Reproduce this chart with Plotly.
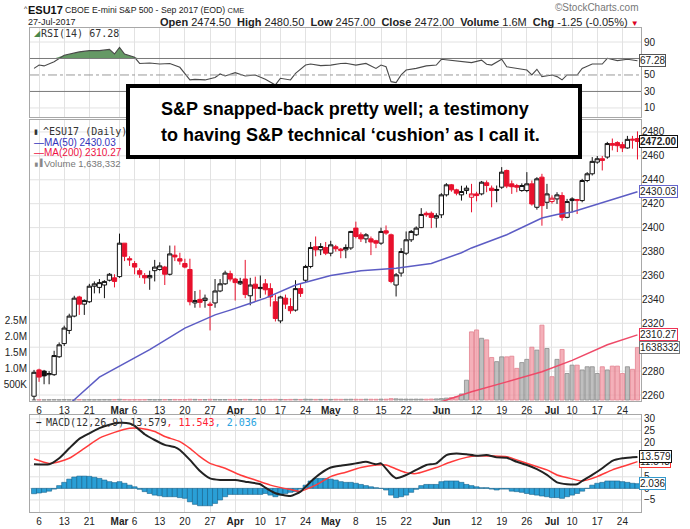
import numpy as np
import plotly.graph_objects as go

# ---------------- data ----------------
FEB_DAYS = [3, 6, 7, 8, 9, 10, 13, 14, 15, 16, 17, 21, 22, 23, 24, 27, 28]
MAR_DAYS = [1, 2, 3, 6, 7, 8, 9, 10, 13, 14, 15, 16, 17, 20, 21, 22, 23, 24, 27, 28, 29, 30, 31]
APR_DAYS = [3, 4, 5, 6, 7, 10, 11, 12, 13, 17, 18, 19, 20, 21, 24, 25, 26, 27, 28]
MAY_DAYS = [1, 2, 3, 4, 5, 8, 9, 10, 11, 12, 15, 16, 17, 18, 19, 22, 23, 24, 25, 26, 30, 31]
JUN_DAYS = [1, 2, 5, 6, 7, 8, 9, 12, 13, 14, 15, 16, 19, 20, 21, 22, 23, 26, 27, 28, 29, 30]
JUL_DAYS = [3, 5, 6, 7, 10, 11, 12, 13, 14, 17, 18, 19, 20, 21, 24, 25, 26, 27]

OPEN = [2259, 2281, 2280, 2277, 2277, 2292, 2303, 2314, 2326, 2342, 2336, 2338, 2351, 2350, 2352, 2356, 2358,
        2359, 2387, 2374, 2370, 2364, 2360, 2358, 2364, 2365, 2367, 2361, 2377, 2374, 2370, 2365, 2337, 2340, 2339,
        2336, 2337, 2347, 2353, 2361.5,
        2357, 2353, 2357, 2343, 2352.7, 2349, 2353, 2349, 2338, 2322, 2341, 2334, 2331, 2349, 2356, 2367.5, 2384,
        2381.4, 2383.4,
        2378.6, 2384, 2382, 2381.4, 2383, 2399.6, 2394, 2390.6, 2390.6, 2389, 2387, 2397.3, 2394, 2352, 2362, 2378.6,
        2389.8, 2394, 2400, 2412, 2412, 2408,
        2410.7, 2427.4, 2435.8, 2431.6, 2427.4, 2431, 2425.4, 2428.2, 2428.2, 2437.5, 2433, 2431.9, 2433.8, 2447.8,
        2436.6, 2435.2, 2431, 2431, 2436.6, 2417, 2442.2, 2421.2,
        2421.8, 2424, 2426.8, 2408.6, 2422.6, 2422.6, 2422.6, 2439.4, 2445, 2454.8, 2457.6, 2459, 2470.3, 2471.1,
        2469.4, 2466.6, 2474, 2474.5]
HIGH = [2281, 2282, 2281, 2280, 2297, 2304, 2318, 2328, 2343, 2343, 2340, 2353, 2355, 2357, 2356, 2362, 2361,
        2395, 2387, 2376, 2372, 2366, 2362, 2364, 2373, 2371, 2368, 2385, 2385, 2379, 2374, 2374, 2347, 2348, 2344,
        2338, 2357, 2357, 2364, 2364,
        2358, 2358, 2373, 2358, 2359, 2360, 2357, 2353.5, 2344, 2343, 2344, 2341, 2356, 2353.5, 2368.9, 2388, 2392.6,
        2387, 2388,
        2389, 2385.6, 2383, 2386, 2397.3, 2405, 2396, 2395.4, 2392.6, 2389.8, 2400, 2401.8, 2395, 2362, 2382.8,
        2396.8, 2398, 2401, 2416.3, 2413.5, 2413.5, 2412,
        2428.8, 2437.2, 2436.5, 2432.5, 2435, 2435.2, 2436.6, 2430, 2439, 2439.4, 2435.2, 2435.2, 2450.6, 2448.5,
        2439.4, 2436.6, 2437, 2446.4, 2439.4, 2442.2, 2445, 2436.6,
        2427, 2429.6, 2429.6, 2424, 2425.4, 2424, 2440.8, 2446.4, 2459, 2459.9, 2459.9, 2471.7, 2474.5, 2472.2,
        2471.7, 2476.7, 2476.7, 2480.5]
LOW = [2256, 2271, 2269, 2269, 2276, 2291, 2301, 2311, 2325, 2327, 2327, 2337, 2345, 2345, 2341, 2355, 2350,
       2358, 2372, 2368, 2361, 2358, 2353, 2348, 2355, 2364, 2352, 2360, 2372, 2369, 2366, 2335, 2333, 2333, 2333,
       2314, 2333, 2346, 2352, 2355,
       2339, 2352, 2341, 2335, 2338, 2341, 2344, 2334, 2321.5, 2320, 2332, 2328, 2329.8, 2342, 2354, 2366, 2376,
       2377, 2377,
       2376, 2380, 2374.4, 2374.4, 2381.4, 2391, 2388, 2387, 2377, 2382.8, 2385.6, 2394, 2353.5, 2342.4, 2359,
       2377, 2388, 2393, 2399.6, 2409, 2399.6, 2400,
       2408, 2426, 2430, 2427, 2422.6, 2428, 2412.8, 2422, 2427, 2429.6, 2417, 2421.2, 2432.4, 2433,
       2428.2, 2429.6, 2430, 2429.6, 2418.4, 2415, 2401.6, 2415.6,
       2420, 2419.8, 2405.8, 2407.8, 2412.8, 2411.4, 2421.2, 2438, 2443.6, 2453.4, 2447.8, 2457.6, 2464.6, 2463.2,
       2463.2, 2466, 2466, 2457]
CLOSE = [2279, 2275, 2276, 2278, 2293, 2302, 2316, 2326, 2341, 2336, 2339, 2351, 2353, 2354, 2355, 2361, 2355,
         2387, 2376, 2373, 2367, 2361, 2358, 2360, 2367, 2368, 2361, 2378, 2375.5, 2372, 2367, 2338, 2339, 2337.5,
         2341, 2335, 2347, 2353, 2362, 2357,
         2354, 2355, 2344, 2352, 2349.3, 2350, 2348, 2342, 2324, 2342, 2336, 2330.5, 2349, 2345, 2367.5, 2383.4,
         2381.4, 2384.2, 2378.6,
         2385.6, 2382.3, 2381, 2383.4, 2396.8, 2392.6, 2390.6, 2394, 2388, 2387, 2396.8, 2395.4, 2355, 2360.5, 2380,
         2389.8, 2396.8, 2399.6, 2411, 2410.7, 2408.5, 2410,
         2427.4, 2435.8, 2431.6, 2428.8, 2430.2, 2433, 2428.2, 2426.8, 2438, 2435.2, 2431, 2431.3, 2446.4, 2434.7,
         2434.2, 2433.8, 2435.2, 2436.6, 2419.8, 2440.8, 2418.4, 2428.2,
         2424.6, 2427.4, 2408.6, 2421.8, 2424, 2423.5, 2439.4, 2445, 2455.4, 2457.6, 2456.2, 2470.3, 2468.9, 2468.5,
         2466.6, 2473.8, 2473.25, 2472]
VOLUME_K = [9, 11, 8, 10, 12, 9, 13, 11, 10, 14, 9, 12, 10, 11, 13, 12, 15,
            22, 16, 12, 14, 13, 15, 17, 12, 14, 16, 15, 18, 16, 14, 25, 20, 17, 16, 22, 18, 15, 16, 19,
            18, 16, 21, 19, 17, 15, 18, 20, 24, 19, 17, 20, 22, 18, 26, 23, 20, 21, 22,
            20, 24, 22, 23, 25, 24, 22, 26, 25, 24, 28, 27, 45, 38, 30, 28, 26, 29, 27, 26, 32, 35,
            45, 60, 80, 100, 190, 620, 2130, 2190, 1930, 1880, 1330, 1200, 1350, 1350, 1370, 990, 1170, 1270,
            1650, 1560, 2340, 1610,
            730, 1270, 1580, 830, 1090, 1090, 940, 1040, 1040, 830, 1040, 940, 1060, 1060, 830, 1040, 960,
            1638.332]

MA50_IDX = [6, 8, 13, 20, 23, 30, 36, 39, 41, 46, 52, 59, 65, 72, 79, 81, 85, 87, 94, 101, 104, 107, 114, 120]
MA50_VAL = [2249, 2256, 2275, 2291, 2298, 2316, 2327, 2331, 2334, 2341, 2352, 2360, 2364, 2366, 2370, 2373,
            2379, 2383, 2394, 2408, 2411, 2413, 2422, 2430.03]
MA200_IDX = [80, 87, 94, 101, 107, 114, 120]
MA200_VAL = [2253, 2262.8, 2271, 2279.5, 2289, 2302, 2310.27]

RSI_IDX = [0, 1, 2, 4, 6, 9, 11, 13, 15, 16, 17, 18, 20, 21, 23, 25, 27, 29, 31, 32, 34, 36, 37, 38, 40, 42, 44,
           46, 48, 49, 51, 52, 54, 55, 57, 59, 61, 62, 64, 66, 68, 69, 70, 71, 72, 73, 74, 76, 78, 80, 81, 83, 85,
           87, 89, 90, 91, 93, 94, 96, 98, 99, 100, 101, 103, 104, 105, 106, 108, 109, 111, 113, 114, 116, 118, 120]
RSI_VAL = [58, 62, 61, 66, 74, 78, 79.5, 79.5, 81, 75.5, 83.5, 75.5, 71.4, 64, 64.5, 63.3, 64, 59.3, 44, 44.6,
           44, 47, 51.2, 48.8, 52.8, 48.8, 50, 44.7, 37.9, 46, 44, 52, 62, 63.3, 61.3, 62, 64, 64.2, 62, 64,
           58, 62, 60, 41.9, 40.7, 50, 56, 58, 61, 62, 69, 67.4, 66.2, 65, 68, 63, 62, 69, 60, 58,
           56, 50, 56.9, 48, 50, 48, 44, 50, 50, 58, 63.3, 63.3, 70.2, 67.4, 69, 67.28]

MACD_IDX = [0, 3, 5, 7, 9, 11, 13, 15, 17, 19, 20, 22, 24, 26, 28, 29, 31, 33, 35, 37, 40, 42, 45, 46, 48, 51,
            53, 55, 57, 59, 61, 62, 64, 66, 68, 69, 71, 72, 74, 76, 78, 80, 82, 84, 86, 88, 90, 92, 94, 96, 98,
            100, 102, 104, 106, 108, 109, 111, 113, 115, 117, 119, 120]
MACD_VAL = [10.4, 10.4, 13, 17.3, 21.4, 23.8, 26, 27.5, 28.3, 28, 27, 23.4, 20.9, 18.8, 17.8, 16.6, 12.3, 7.5,
            4.3, 3.6, 3.6, 2.9, 1.8, 0.3, -2.1, -3.3, -1.4, 2.9, 6.5, 9, 9.8, 10.1, 10.8, 11.5, 10.4, 10.8, 6,
            4.4, 5.8, 8, 10.1, 10.8, 14.4, 15.1, 14.7, 14.1, 14.4, 13.4, 13.2, 11.5, 10.1, 8.3, 5.8, 2.6, 1.8,
            1.8, 3.2, 5.8, 8.7, 11.9, 13, 13.4, 13.579]
SIG_IDX = [0, 3, 5, 7, 10, 13, 16, 19, 21, 24, 26, 29, 31, 33, 35, 38, 41, 44, 47, 51, 53, 56, 59, 62, 65, 68,
           70, 72, 74, 76, 78, 80, 83, 86, 88, 91, 94, 96, 99, 102, 104, 107, 109, 112, 115, 118, 120]
SIG_VAL = [12.7, 10.8, 11.5, 13, 17.3, 21.7, 24.2, 26, 26, 24.6, 22.4, 20.2, 17.3, 13.7, 10.8, 8.7, 5.8, 3.6,
           1.4, -0.5, -1.2, 1.4, 5.1, 7, 9, 10.1, 10.1, 8.4, 6.8, 6.4, 7.6, 9, 11.5, 13.4, 14.1, 14, 13.7, 12.3,
           10.1, 8, 5.8, 4.1, 3.2, 5.1, 8, 10.1, 11.543]
HIST = [-2.3, -2.0, -1.7, -1.2, -0.3, 1.2, 2.6, 4.0, 4.9, 5.3, 5.3, 5.2, 4.8, 4.3, 3.6, 2.9, 2.5, 2.9, 2.2, 1.4,
        0.7, -0.4, -1.4, -2.2, -2.9, -3.2, -3.6, -3.6, -3.6, -4.0, -4.3, -5.8, -6.9, -7.5, -7.5, -7.5, -6.5, -5.0,
        -3.6, -2.6, -2.6, -2.6, -2.6, -2.6, -2.6, -2.6, -2.2, -2.9, -3.6, -2.9, -2.2, -1.7, -1.4, -0.3, 1.4, 3.2,
        4.3, 4.3, 4.3, 4.0, 3.6, 2.9,
        2.6, 2.6, 2.2, 1.7, 1.2, 0.7, 0.3, 0.0, -0.7, -2.9, -4.0, -3.6, -2.9, -1.7, -0.4, 1.2, 1.7, 1.7, 1.7, 2.9,
        3.2, 3.2, 3.2, 2.6, 1.7, 1.2, 0.7, 0.3, 0.3, -0.3, -0.7, -0.3, -0.3, -1.2, -1.4, -1.7, -2.2, -2.6, -2.9,
        -3.3, -3.6, -4.0, -4.0, -4.3, -3.6, -2.9, -2.2, -1.2, 0.0, 1.4, 2.2, 2.6, 3.2, 3.2, 3.2, 2.9, 2.6, 2.2,
        2.036]

TICK_DATES = ["2017-02-06", "2017-02-13", "2017-02-21", "2017-03-01", "2017-03-06", "2017-03-13", "2017-03-20",
              "2017-03-27", "2017-04-03", "2017-04-10", "2017-04-17", "2017-04-24", "2017-05-01", "2017-05-08",
              "2017-05-15", "2017-05-22", "2017-06-01", "2017-06-12", "2017-06-19", "2017-06-26", "2017-07-03",
              "2017-07-10", "2017-07-17", "2017-07-24"]
TICK_TEXT = ["6", "13", "21", "<b>Mar</b>", "6", "13", "20", "27", "<b>Apr</b>", "10", "17", "24", "<b>May</b>",
             "8", "15", "22", "<b>Jun</b>", "12", "19", "26", "<b>Jul</b>", "10", "17", "24"]
PRICE_TICKS = [2260, 2280, 2320, 2340, 2360, 2380, 2400, 2420, 2440, 2460, 2480]
PRICE_GRID = list(range(2260, 2481, 20))
VOL_TICKS = [500000, 1000000, 1500000, 2000000, 2500000]
VOL_TICK_TEXT = ["500K", "1.0M", "1.5M", "2.0M", "2.5M"]
RSI_TICKS = [10, 30, 50, 90]
RSI_GRID = [10, 90]
MACD_TICKS = [-5, 0, 5, 20, 25, 30]
MACD_GRID = [-5, 0, 5, 10, 15, 20, 25, 30]

# ---------------- helpers ----------------
W, H = 690, 529


def px(x):
    return x / W


def py(y):
    return 1 - y / H


DATES = ([f"2017-02-{d:02d}" for d in FEB_DAYS] + [f"2017-03-{d:02d}" for d in MAR_DAYS] +
         [f"2017-04-{d:02d}" for d in APR_DAYS] + [f"2017-05-{d:02d}" for d in MAY_DAYS] +
         [f"2017-06-{d:02d}" for d in JUN_DAYS] + [f"2017-07-{d:02d}" for d in JUL_DAYS])

o = np.array(OPEN, float)
h = np.array(HIGH, float)
l = np.array(LOW, float)
c = np.array(CLOSE, float)
prev = np.concatenate([[c[0]], c[:-1]])
is_red = c < prev
dates = np.array(DATES)

RED = "#e8112d"
FONT = "Liberation Sans, Arial, sans-serif"
MONO = "DejaVu Sans Mono, monospace"
GRID = "#e2e2e2"
BORDER = "#a8a8a8"
XR = [-0.8, 120.7]
XDOM = [px(30), px(641)]

fig = go.Figure()

# ---------------- RSI panel ----------------
rsi_d = [DATES[i] for i in RSI_IDX]
rsi_v = np.array(RSI_VAL, float)
fig.add_trace(go.Scatter(x=rsi_d, y=[70] * len(rsi_d), mode="lines", line=dict(width=0),
                         xaxis="x", yaxis="y", hoverinfo="skip"))
fig.add_trace(go.Scatter(x=rsi_d, y=np.maximum(rsi_v, 70), mode="lines", line=dict(width=0),
                         fill="tonexty", fillcolor="rgba(74,135,74,0.85)", xaxis="x", yaxis="y",
                         hoverinfo="skip"))
fig.add_trace(go.Scatter(x=rsi_d, y=rsi_v, mode="lines", line=dict(color="#4a4a4a", width=1.1),
                         xaxis="x", yaxis="y"))

# ---------------- main panel ----------------
vol = np.array(VOLUME_K, float) * 1000
fig.add_trace(go.Bar(x=DATES, y=vol, xaxis="x2", yaxis="y2", width=0.82,
                     marker=dict(color=np.where(is_red, "rgba(240,150,162,0.75)", "rgba(175,175,175,0.8)"),
                                 line=dict(color=np.where(is_red, "#e38390", "#8c8c8c"), width=0.8))))

fig.add_trace(go.Scatter(x=[DATES[i] for i in MA50_IDX], y=MA50_VAL, mode="lines",
                         line=dict(color="#5c5cc4", width=1.5), xaxis="x2", yaxis="y3"))
fig.add_trace(go.Scatter(x=[DATES[i] for i in MA200_IDX], y=MA200_VAL, mode="lines",
                         line=dict(color="#ee4a68", width=1.5), xaxis="x2", yaxis="y3"))

blk = ~is_red
fig.add_trace(go.Candlestick(x=dates[blk], open=o[blk], high=h[blk], low=l[blk], close=c[blk],
                             xaxis="x2", yaxis="y3", whiskerwidth=0,
                             increasing=dict(line=dict(color="#111111", width=1), fillcolor="white"),
                             decreasing=dict(line=dict(color="#111111", width=1), fillcolor="#111111")))
fig.add_trace(go.Candlestick(x=dates[is_red], open=o[is_red], high=h[is_red], low=l[is_red], close=c[is_red],
                             xaxis="x2", yaxis="y3", whiskerwidth=0,
                             increasing=dict(line=dict(color=RED, width=1), fillcolor="white"),
                             decreasing=dict(line=dict(color=RED, width=1), fillcolor=RED)))

# ---------------- MACD panel ----------------
fig.add_trace(go.Bar(x=DATES, y=HIST, xaxis="x3", yaxis="y4", width=1.0,
                     marker=dict(color="#2a9fd6", line=dict(color="#14628c", width=0.6))))
fig.add_trace(go.Scatter(x=[DATES[i] for i in SIG_IDX], y=SIG_VAL, mode="lines",
                         line=dict(color="#ff3b3b", width=1.5, shape="spline", smoothing=0.6),
                         xaxis="x3", yaxis="y4"))
fig.add_trace(go.Scatter(x=[DATES[i] for i in MACD_IDX], y=MACD_VAL, mode="lines",
                         line=dict(color="#222222", width=2, shape="spline", smoothing=0.5),
                         xaxis="x3", yaxis="y4"))

# ---------------- axes ----------------
xcommon = dict(type="category", categoryorder="array", categoryarray=DATES, range=XR, domain=XDOM,
               tickmode="array", tickvals=TICK_DATES, ticktext=TICK_TEXT, showgrid=True, gridcolor=GRID,
               gridwidth=1, showline=True, mirror=True, linecolor=BORDER, linewidth=1, ticks="",
               tickfont=dict(family=FONT, size=10, color="#222"), zeroline=False, fixedrange=True,
               automargin=False)
ytick = dict(family=FONT, size=10, color="#222")

fig.update_layout(
    width=W, height=H, margin=dict(l=0, r=0, t=0, b=0), paper_bgcolor="white", plot_bgcolor="white",
    showlegend=False, hovermode=False, bargap=0, boxgap=0.1, boxgroupgap=0.05,
    xaxis=dict(xcommon, anchor="y", showticklabels=False),
    xaxis2=dict(xcommon, anchor="y2", rangeslider=dict(visible=False)),
    xaxis3=dict(xcommon, anchor="y4"),
    yaxis=dict(domain=[py(117), py(28)], range=[-1, 107], side="right", anchor="x", tickmode="array",
               tickvals=RSI_TICKS, showgrid=False, showline=True, mirror=True,
               linecolor=BORDER, ticks="", zeroline=False, automargin=False, tickfont=ytick),
    yaxis2=dict(domain=[py(401), py(120)], range=[-30000, 8.75e6], side="left", anchor="x2",
                tickmode="array", tickvals=VOL_TICKS, ticktext=VOL_TICK_TEXT, showgrid=False,
                showline=True, mirror=True, linecolor=BORDER, ticks="", zeroline=False, automargin=False,
                tickfont=ytick),
    yaxis3=dict(range=[2255, 2490], overlaying="y2", side="right", anchor="x2", tickmode="array",
                tickvals=PRICE_TICKS, showgrid=False, showline=False, ticks="",
                zeroline=False, automargin=False, tickfont=ytick),
    yaxis4=dict(domain=[py(512), py(415)], range=[-10.2, 31.7], side="right", anchor="x3", tickmode="array",
                tickvals=MACD_TICKS, showgrid=False, showline=True, mirror=True,
                linecolor=BORDER, ticks="", zeroline=False, automargin=False, tickfont=ytick),
)

# ---------------- shapes ----------------
shapes = []
for v in PRICE_GRID:
    shapes.append(dict(type="line", xref="paper", yref="y3", x0=XDOM[0], x1=XDOM[1], y0=v, y1=v,
                       line=dict(color=GRID, width=1), layer="below"))
for v in MACD_GRID:
    shapes.append(dict(type="line", xref="paper", yref="y4", x0=XDOM[0], x1=XDOM[1], y0=v, y1=v,
                       line=dict(color=GRID, width=1), layer="below"))
for v in RSI_GRID:
    shapes.append(dict(type="line", xref="paper", yref="y", x0=XDOM[0], x1=XDOM[1], y0=v, y1=v,
                       line=dict(color=GRID, width=1), layer="below"))
shapes += [
    dict(type="line", xref="paper", yref="y", x0=XDOM[0], x1=XDOM[1], y0=70, y1=70,
         line=dict(color="#7a7a7a", width=1)),
    dict(type="line", xref="paper", yref="y", x0=XDOM[0], x1=XDOM[1], y0=30, y1=30,
         line=dict(color="#7a7a7a", width=1)),
    dict(type="line", xref="paper", yref="y", x0=XDOM[0], x1=XDOM[1], y0=50, y1=50,
         line=dict(color="#9a9a9a", width=1, dash="dashdot")),
    dict(type="rect", xref="paper", yref="paper", x0=px(128), x1=px(580), y0=py(157), y1=py(86),
         line=dict(color="black", width=4), fillcolor="white", layer="above"),
]
fig.update_layout(shapes=shapes)

# ---------------- annotations ----------------
ann = []


def txt(x, y, text, size=10, color="#222", family=FONT, xanchor="left", **kw):
    ann.append(dict(xref="paper", yref="paper", x=px(x), y=py(y), text=text, showarrow=False,
                    xanchor=xanchor, yanchor="middle", font=dict(family=family, size=size, color=color),
                    borderpad=0, **kw))


def rbox(text, yref, yval, border, bold=False, color="#222"):
    t = f"<b>{text}</b>" if bold else text
    ann.append(dict(xref="paper", yref=yref, x=px(639), y=yval, text=t, showarrow=False, xanchor="left",
                    yanchor="middle", bgcolor="white", bordercolor=border, borderwidth=1, borderpad=0,
                    font=dict(family=FONT, size=10, color=color)))


# header
txt(23, 8, "^", size=7, color="#111")
txt(27, 10, "<b>ESU17</b>", size=11, color="#111")
txt(64, 10, "CBOE E-mini S&P 500 - Sep 2017 (EOD) <span style='font-size:7.5px'>CME</span>", size=8.7,
    color="#222")
txt(27, 22, "27-Jul-2017", size=9, color="#222")
txt(640, 22, "<b>Open</b> 2474.50  <b>High</b> 2480.50  <b>Low</b> 2457.00  <b>Close</b> 2472.00  "
             "<b>Volume</b> 1.6M  <b>Chg</b> -1.25 (-0.05%) <span style='color:#dd0022;font-size:8px'>▼</span>",
    size=11, color="#222", xanchor="right")
txt(640, 7, "©StockCharts.com", size=10, color="#777", xanchor="right")

# panel legends
txt(33, 33, "◢", size=8, color="#4a874a")
txt(40, 33, "RSI(14) 67.28", size=10, color="#333", family=MONO)
txt(33, 131, "▮", size=7, color="#333")
txt(42, 131, "^ESU17 (Daily)", size=10, color="#333", family=MONO)
txt(33, 142, "—", size=10, color="#3333bb")
txt(43, 142, "MA(50) 2430.03", size=10, color="#3333bb")
txt(33, 152.5, "—", size=10, color="#ee1144")
txt(43, 152.5, "MA(200) 2310.27", size=10, color="#ee1144")
txt(33, 163, "▖▌", size=7, color="#888")
txt(43, 163, "Volume 1,638,332", size=9.5, color="#777")
txt(35, 422, "<b>–</b>", size=10, color="#222")
txt(45, 422, "MACD(12,26,9) 13.579<span style='color:#ff2233'>, 11.543</span>"
             "<span style='color:#29a3e0'>, 2.036</span>", size=10, color="#333", family=MONO)

# commentary box text
txt(160, 109, "<b>S&P snapped-back pretty well; a testimony</b>", size=18, color="#000")
txt(160, 135, "<b>to having S&P technical ‘cushion’ as I call it.</b>", size=18, color="#000")

# right-axis value boxes
rbox("67.28", "y", 67.28, "#555")
rbox("2472.00", "y3", 2472.0, "#111", bold=True)
rbox("2430.03", "y3", 2430.03, "#6666cc")
rbox("2310.27", "y3", 2310.27, "#ee3355")
rbox("1638332", "y2", 1638332, "#777")
rbox("11.543", "y4", 11.543, "#ff3333")
rbox("13.579", "y4", 13.579, "#111")
rbox("2.036", "y4", 2.036, "#3399cc")

fig.update_layout(annotations=ann)
fig.write_html("out.html", config={"displayModeBar": False, "staticPlot": True},
               post_script="document.body.style.margin='0px';document.body.style.padding='0px';")
